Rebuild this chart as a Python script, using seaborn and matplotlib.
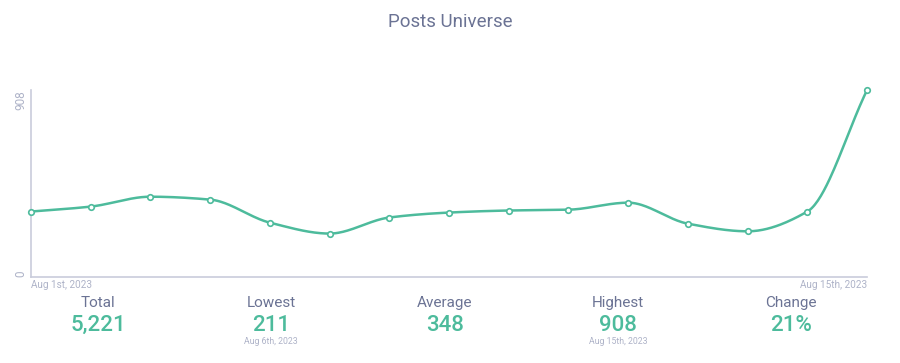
import numpy as np
import pandas as pd
import matplotlib
matplotlib.use("Agg")
import matplotlib.pyplot as plt
import seaborn as sns

# data (Aug 1st .. Aug 15th, 2023)
days = list(range(1, 16))
posts = [318, 342, 390, 376, 264, 211, 289, 313, 323, 327, 361, 259, 222, 318, 908]
first_label = "Aug 1st, 2023"
last_label = "Aug 15th, 2023"

stat_names = ["Total", "Lowest", "Average", "Highest", "Change"]
stat_values = ["5,221", "211", "348", "908", "21%"]
stat_notes = ["", "Aug 6th, 2023", "", "Aug 15th, 2023", ""]

GREEN = "#4dbb9c"
SLATE = "#6b7394"
PALE = "#aeb3c8"
AXIS = "#c9ccdb"

sns.set_style("white")
plt.rcParams["font.family"] = ["Roboto", "DejaVu Sans"]


def monotone_curve(x, y, n=40):
    # Fritsch-Carlson monotone cubic, like d3's curveMonotoneX
    x = np.asarray(x, float)
    y = np.asarray(y, float)
    h = np.diff(x)
    d = np.diff(y) / h
    m = np.zeros_like(y)
    m[0], m[-1] = d[0], d[-1]
    for i in range(1, len(y) - 1):
        if d[i - 1] * d[i] <= 0:
            m[i] = 0
        else:
            w1 = 2 * h[i] + h[i - 1]
            w2 = h[i] + 2 * h[i - 1]
            m[i] = (w1 + w2) / (w1 / d[i - 1] + w2 / d[i])
    xs, ys = [], []
    for i in range(len(x) - 1):
        t = np.linspace(0, 1, n, endpoint=False)
        h00 = 2 * t**3 - 3 * t**2 + 1
        h10 = t**3 - 2 * t**2 + t
        h01 = -2 * t**3 + 3 * t**2
        h11 = t**3 - t**2
        xs.append(x[i] + t * h[i])
        ys.append(h00 * y[i] + h10 * h[i] * m[i] + h01 * y[i + 1] + h11 * h[i] * m[i + 1])
    xs.append([x[-1]])
    ys.append([y[-1]])
    return np.concatenate(xs), np.concatenate(ys)


df = pd.DataFrame({"day": days, "posts": posts})
sx, sy = monotone_curve(df["day"], df["posts"])
smooth = pd.DataFrame({"day": sx, "posts": sy})

fig = plt.figure(figsize=(9, 3.63), dpi=100)
ax = fig.add_axes([0.0344, 0.2369, 0.929, 0.515])

sns.lineplot(data=smooth, x="day", y="posts", ax=ax, color=GREEN, lw=1.8, clip_on=False)
sns.scatterplot(data=df, x="day", y="posts", ax=ax, s=16, color="white",
                edgecolor=GREEN, linewidth=1.2, zorder=5, clip_on=False)

ax.set_xlim(days[0], days[-1])
ax.set_ylim(0, max(posts))
ax.set_xticks([])
ax.set_yticks([])
ax.set_xlabel("")
ax.set_ylabel("")
for side in ["top", "right"]:
    ax.spines[side].set_visible(False)
for side in ["left", "bottom"]:
    ax.spines[side].set_color(AXIS)
    ax.spines[side].set_linewidth(1.2)

# y-axis labels (rotated, only min and max)
ax.text(-0.004, 1.0, str(max(posts)), rotation=90, ha="right", va="top",
        color=PALE, fontsize=8.5, transform=ax.transAxes)
ax.text(-0.004, 0.0, "0", rotation=90, ha="right", va="bottom",
        color=PALE, fontsize=8.5, transform=ax.transAxes)

# x-axis labels (first and last day)
fig.text(0.0344, 0.215, first_label, ha="left", va="center", color=PALE, fontsize=7.2)
fig.text(0.9633, 0.215, last_label, ha="right", va="center", color=PALE, fontsize=7.2)

fig.text(0.5, 0.94, "Posts Universe", ha="center", va="center", color=SLATE, fontsize=13.5)

# summary row
centers = [0.109, 0.301, 0.494, 0.687, 0.879]
for cx, name, val, note in zip(centers, stat_names, stat_values, stat_notes):
    fig.text(cx, 0.166, name, ha="center", va="center", color=SLATE, fontsize=11)
    fig.text(cx, 0.103, val, ha="center", va="center", color=GREEN, fontsize=16,
             fontweight="medium")
    if note:
        fig.text(cx, 0.058, note, ha="center", va="center", color=PALE, fontsize=6.3)

fig.savefig("out.png", dpi=100, facecolor="white")
